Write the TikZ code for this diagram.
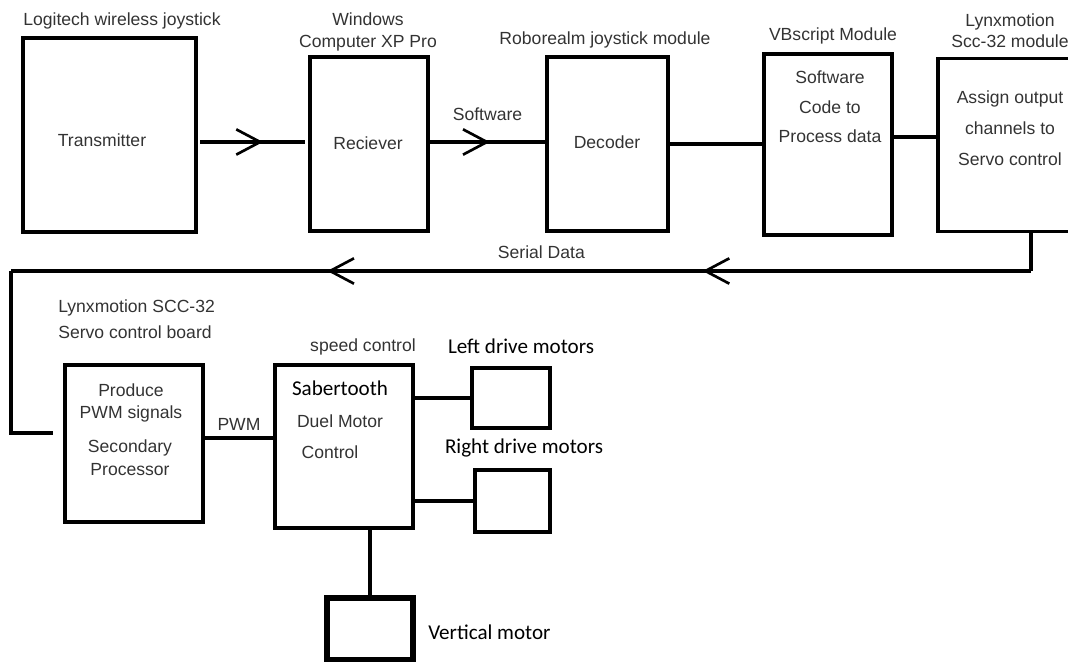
\documentclass[tikz,border=0pt]{standalone}
\usepackage{fontspec}
\setmainfont{Liberation Sans}
\newfontfamily\calibri{Carlito}
\usepackage{tikz}
\usetikzlibrary{arrows.meta,decorations.markings,positioning,calc}
\tikzstyle{box}  =[draw, line width=2.2pt, inner sep=0pt]
\tikzstyle{lbl}  =[font=\fontsize{12.5pt}{15pt}\selectfont, text=black!80, inner sep=0pt]
\tikzstyle{cal}  =[font=\calibri\fontsize{15pt}{18pt}\selectfont, text=black, inner sep=0pt]
\tikzstyle{wire} =[line width=2.2pt]
\tikzset{chev/.style={postaction={decorate, decoration={markings,
   mark=at position #1 with {\arrow{Straight Barb[length=17pt,width=18pt,line width=1.9pt]}}}}}}

\begin{document}
\begin{tikzpicture}[x=0.025cm, y=-0.025cm]
  \useasboundingbox (0,0) rectangle (1068,662);

  % ── top row ───────────────────────────────────────────────────────────────
  \node[box, minimum width=4.325cm, minimum height=4.85cm]  (tx)   at (109.5,135)  {};
  \node[box, minimum width=2.95cm,  minimum height=4.35cm]  (rx)   at (369,144)    {};
  \node[box, minimum width=3.025cm, minimum height=4.35cm]  (dec)  at (607.5,144)  {};
  \node[box, minimum width=3.2cm,   minimum height=4.525cm] (vbs)  at (828,144.5)  {};
  \node[box, minimum width=3.6cm,   minimum height=4.325cm] (lynx) at (1010,145)   {};

  \node[lbl, anchor=west] (txt) at (23,21) {Logitech wireless joystick};
  \node[lbl, align=center] (rxt) at (368,32) {Windows\\Computer XP Pro};
  \node[lbl] (dect) at (605,40) {Roborealm joystick module};
  \node[lbl] (vbst) at (833,36) {VBscript Module};
  \node[lbl, align=center] (lynxt) at (1010,31) {Lynxmotion\\Scc-32 module};

  \node[lbl] at (102,140) {Transmitter};
  \node[lbl] at (368,143) {Reciever};
  \node[lbl] at (607,142) {Decoder};
  \node[lbl, align=center, font=\fontsize{12.5pt}{21pt}\selectfont] at (830,107) {Software\\Code to\\Process data};
  \node[lbl, align=center, font=\fontsize{12.5pt}{22pt}\selectfont] at (1010,128) {Assign output\\channels to\\Servo control};

  \coordinate (a1) at (200,142);
  \coordinate (a2) at (305,142);
  \coordinate (b1) at (430,142);
  \coordinate (b2) at (545,142);
  \draw[wire, chev=0.6] (a1) -- (a2);
  \draw[wire, chev=0.52] (b1) -- node[lbl, above=14pt] {Software} (b2);
  \draw[wire] (dec.east) -- (vbs.west |- dec.east);
  \draw[wire] (vbs.east |- 0,137) -- (lynx.west |- 0,137);

  % ── serial data back to the board ─────────────────────────────────────────
  \coordinate (fa) at (lynx.south -| 1031,0);
  \coordinate (fb) at (1031,271);
  \coordinate (fc) at (11,271);
  \coordinate (fd) at (11,433);
  \coordinate (fe) at (53,433);
  \draw[wire] (fa) -- (fb);
  \draw[wire, chev=0.322, chev=0.69] (fb) -- node[lbl, pos=0.48, above=8pt] {Serial Data} (fc);
  \draw[wire] (fc) -- (fd) -- (fe);

  % ── bottom row ────────────────────────────────────────────────────────────
  \node[box, minimum width=3.45cm, minimum height=3.925cm] (scc)  at (134,443.5) {};
  \node[box, minimum width=3.45cm, minimum height=4.075cm] (sab)  at (344,446.5) {};
  \node[box, minimum width=1.95cm, minimum height=1.5cm]   (lmot) at (511,398)   {};
  \node[box, minimum width=1.875cm,minimum height=1.55cm]  (rmot) at (512.5,501) {};
  \node[box, line width=3.6pt, minimum width=2.15cm, minimum height=1.55cm] (vmot) at (370,629) {};

  \node[lbl, align=left, anchor=west, font=\fontsize{12.5pt}{18.5pt}\selectfont] at (58,319) {Lynxmotion SCC-32\\Servo control board};
  \node[lbl, align=center] at (131,403) {Produce\\PWM signals};
  \node[lbl, align=center, font=\fontsize{12.5pt}{16.5pt}\selectfont] at (130,458) {Secondary\\Processor};
  \node[lbl] at (363,347) {speed control};
  \node[cal] at (340,388) {Sabertooth};
  \node[lbl] at (340,421) {Duel Motor};
  \node[lbl] at (330,452) {Control};
  \node[cal] at (521,346) {Left drive motors};
  \node[cal] at (524,448) {Right drive motors};
  \node[cal, anchor=west] at (428,632) {Vertical motor};

  \draw[wire] (scc.east |- 0,438) -- node[lbl, above=4pt] {PWM} (sab.west |- 0,438);
  \draw[wire] (sab.east |- lmot.west) -- (lmot.west);
  \draw[wire] (sab.east |- rmot.west) -- (rmot.west);
  \draw[line width=3.2pt] (sab.south -| vmot.north) -- (vmot.north);

\end{tikzpicture}
\end{document}
